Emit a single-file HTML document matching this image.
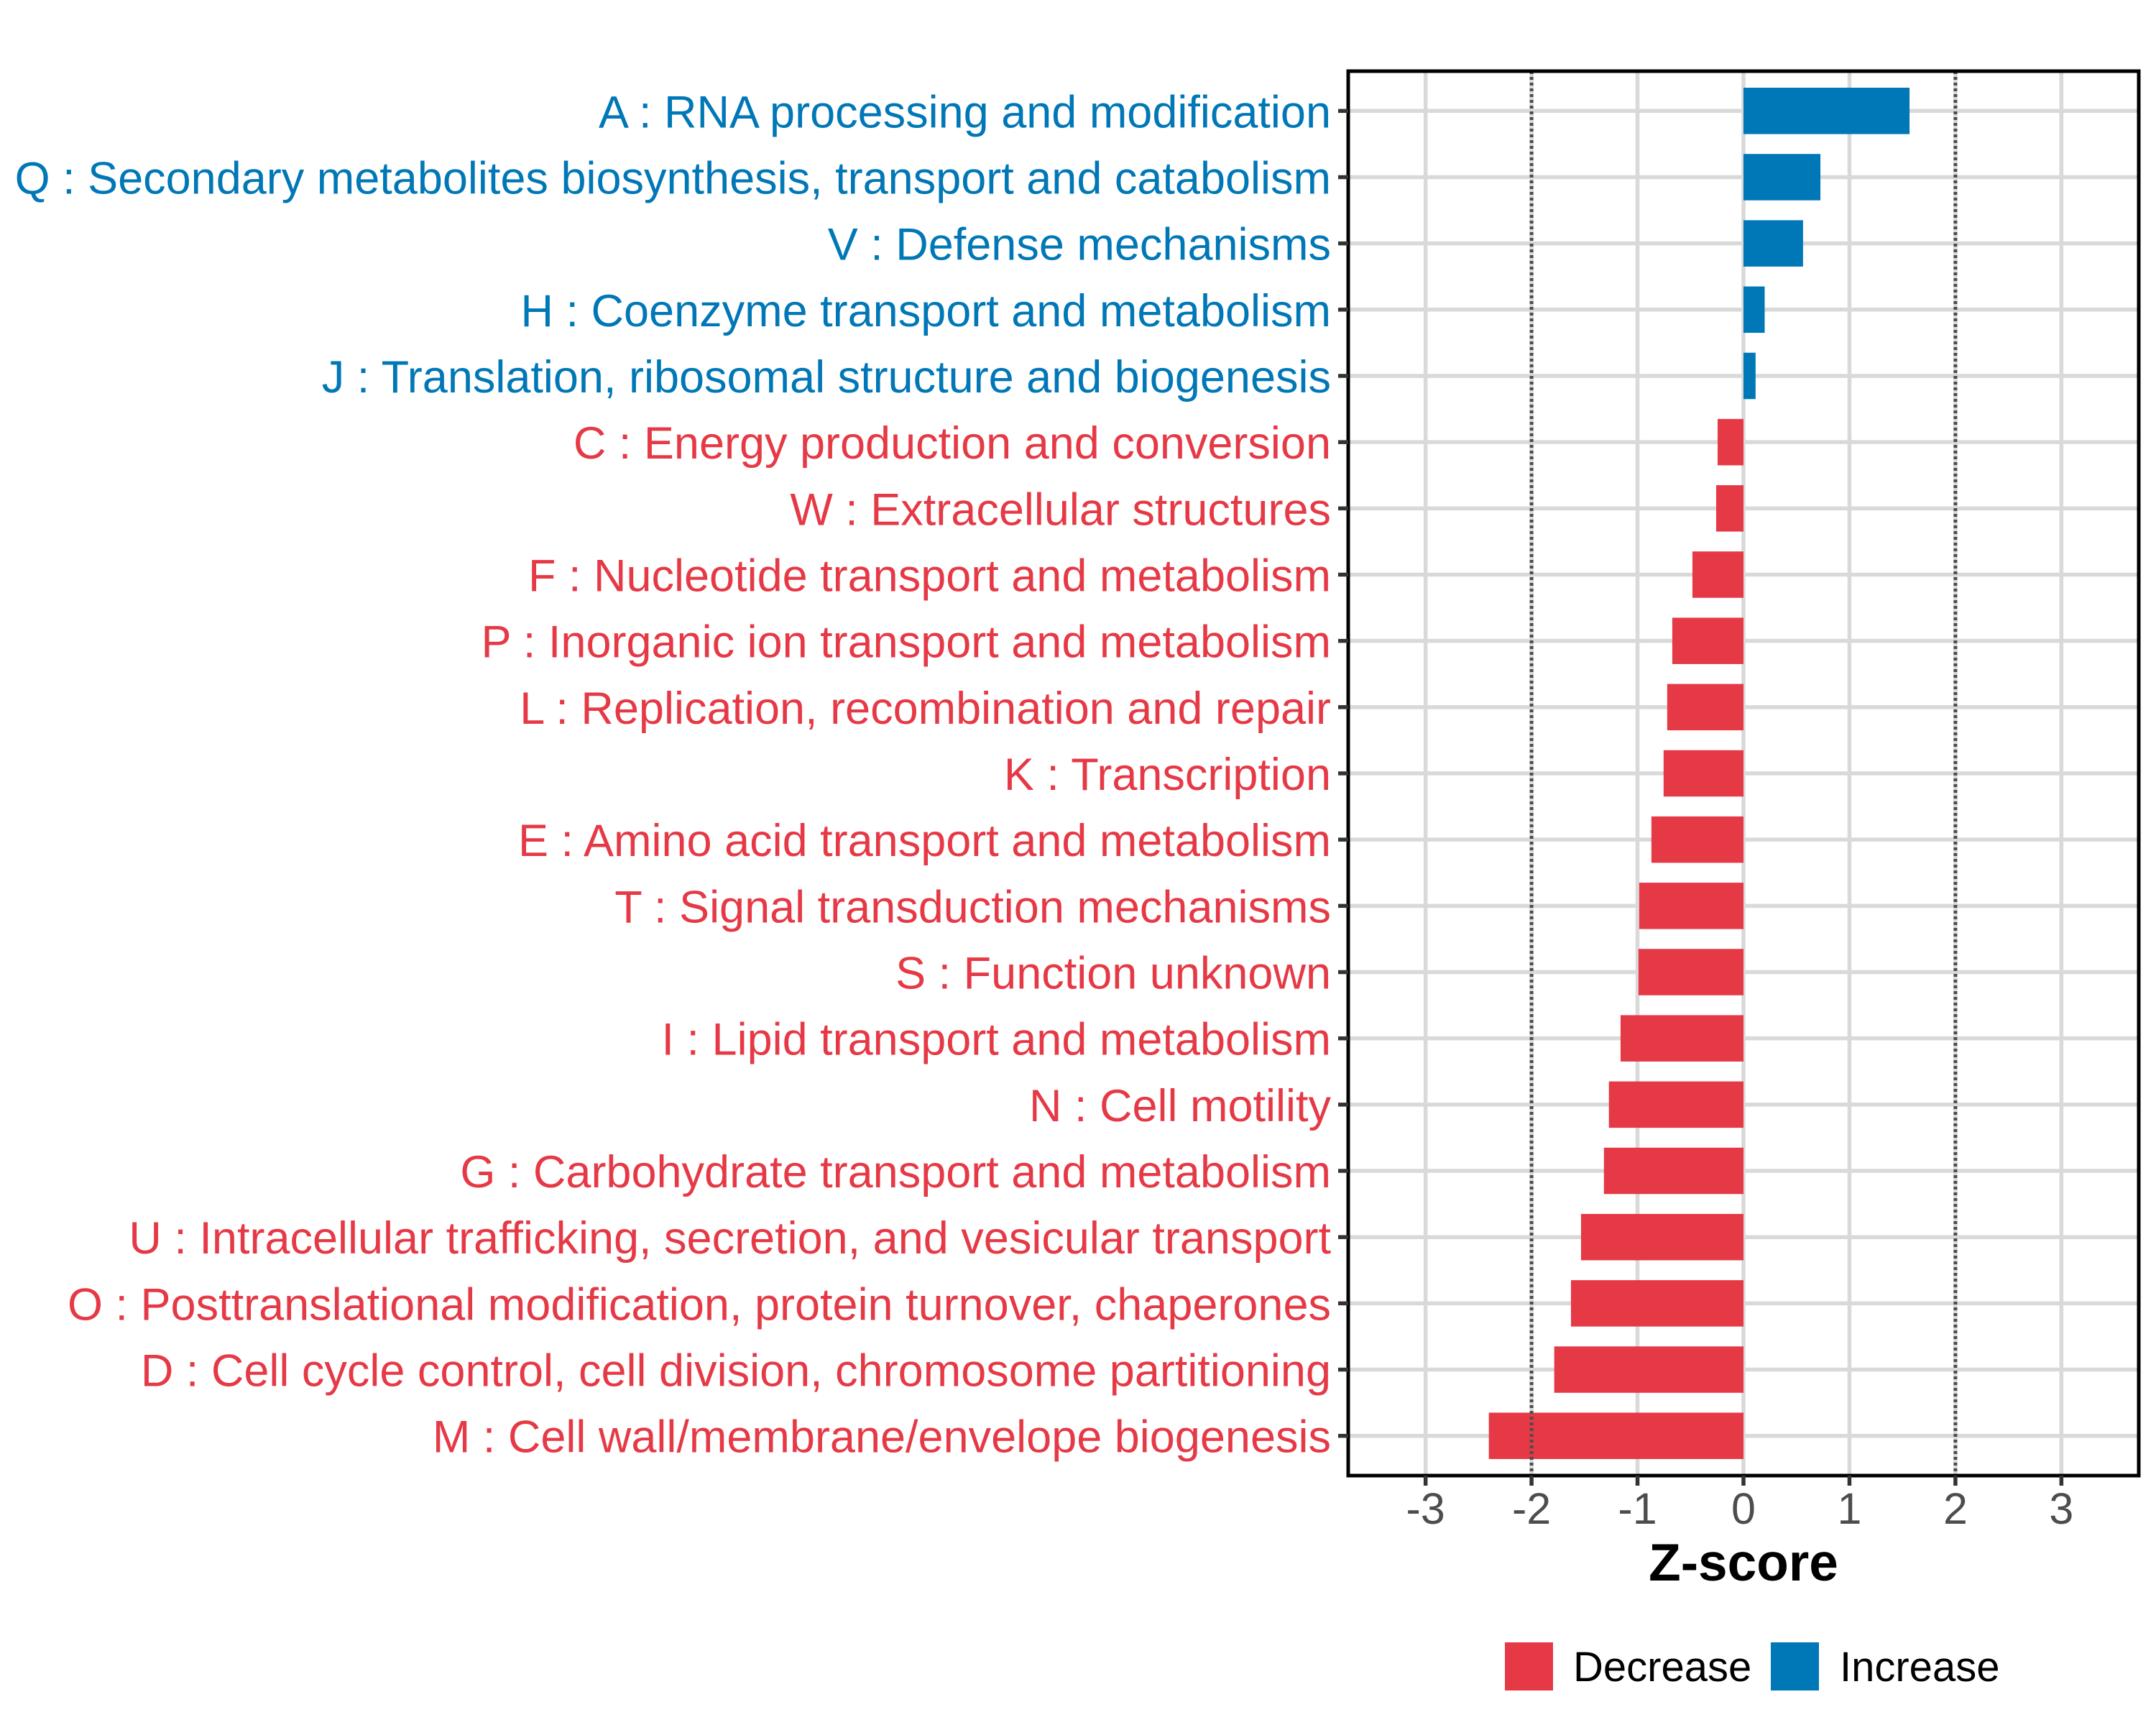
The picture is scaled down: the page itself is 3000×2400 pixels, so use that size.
<!DOCTYPE html>
<html><head><meta charset="utf-8"><style>html,body{margin:0;padding:0;background:#fff}svg{display:block}text{font-family:"Liberation Sans",Arial,sans-serif}</style></head>
<body>
<svg id="chart" width="3000" height="2400" viewBox="0 0 3000 2400" xmlns="http://www.w3.org/2000/svg">
<rect x="0" y="0" width="3000" height="2400" fill="#fff"/>
<g id="grid"></g><g id="bars"></g><g id="labels"></g>
<text x="2426" y="2199" font-size="73" font-weight="bold" text-anchor="middle" fill="#000">Z-score</text>
<g>
<rect x="2094" y="2285" width="67" height="67" fill="#E63946"/>
<text x="2189" y="2339" font-size="58" fill="#000">Decrease</text>
<rect x="2464" y="2285" width="67" height="67" fill="#0077B6"/>
<text x="2560" y="2339" font-size="58" fill="#000">Increase</text>
</g>
</svg>
<script>
const categories = ["A : RNA processing and modification","Q : Secondary metabolites biosynthesis, transport and catabolism","V : Defense mechanisms","H : Coenzyme transport and metabolism","J : Translation, ribosomal structure and biogenesis","C : Energy production and conversion","W : Extracellular structures","F : Nucleotide transport and metabolism","P : Inorganic ion transport and metabolism","L : Replication, recombination and repair","K : Transcription","E : Amino acid transport and metabolism","T : Signal transduction mechanisms","S : Function unknown","I : Lipid transport and metabolism","N : Cell motility","G : Carbohydrate transport and metabolism","U : Intracellular trafficking, secretion, and vesicular transport","O : Posttranslational modification, protein turnover, chaperones","D : Cell cycle control, cell division, chromosome partitioning","M : Cell wall/membrane/envelope biogenesis"];
const zscores = [1.567,0.726,0.562,0.2,0.114,-0.244,-0.258,-0.482,-0.672,-0.72,-0.754,-0.869,-0.984,-0.991,-1.16,-1.27,-1.317,-1.533,-1.628,-1.786,-2.403];
const xTicks = [-3,-2,-1,0,1,2,3];
const xTickLabels = ["-3","-2","-1","0","1","2","3"];
const thresholds = [-2,2];

const NS="http://www.w3.org/2000/svg";
const P={l:1876,r:2976,t:99,b:2053};
const xMin=-3.73,xMax=3.73;
const xs=v=>P.l+(v-xMin)/(xMax-xMin)*(P.r-P.l);
const n=categories.length;
const step=(P.b-P.t)/(n-1+1.2);
const ys=i=>P.t+step*(0.6+i);
function mk(tag,attrs,parent){const e=document.createElementNS(NS,tag);for(const k in attrs)e.setAttribute(k,attrs[k]);parent.appendChild(e);return e;}
const grid=document.getElementById('grid'),bars=document.getElementById('bars'),labels=document.getElementById('labels');
categories.forEach((c,i)=>{
  const l=mk('line',{x1:P.l,x2:P.r,y1:ys(i),y2:ys(i),stroke:'#D9D9D9','stroke-width':5.5},grid);
  
  
});
xTicks.forEach((t,i)=>{
  const l=mk('line',{x1:xs(t),x2:xs(t),y1:P.t,y2:P.b,stroke:'#D9D9D9','stroke-width':5.5},grid);
  
  
  const tk=mk('line',{x1:xs(t),x2:xs(t),y1:P.b,y2:P.b+14,stroke:'#333','stroke-width':5.5},labels);
  
  
  const tx=mk('text',{x:xs(t),y:2120,'font-size':61,'text-anchor':'middle',fill:'#4D4D4D'},labels);
  tx.textContent=xTickLabels[i];
  
  
});
const bh=step*0.7;
zscores.forEach((v,i)=>{
  const x0=xs(0),x1=xs(v);
  const r=mk('rect',{x:Math.min(x0,x1),y:ys(i)-bh/2,width:Math.abs(x1-x0),height:bh,fill:v>=0?'#0077B6':'#E63946'},bars);
  
  
  const tk=mk('line',{x1:P.l-14,x2:P.l,y1:ys(i),y2:ys(i),stroke:'#333','stroke-width':5.5},labels);
  
  
  const t=mk('text',{x:1852,y:ys(i)+23,'font-size':63,'text-anchor':'end',fill:v>=0?'#0077B6':'#E63946'},labels);
  t.textContent=categories[i];
  
  
});
thresholds.forEach(t=>{
  const l=mk('line',{x1:xs(t),x2:xs(t),y1:P.t,y2:P.b,stroke:'#4D4D4D','stroke-width':5,'stroke-dasharray':'4 4'},bars);
  
  
});
const border=mk('rect',{x:P.l,y:P.t,width:P.r-P.l,height:P.b-P.t,fill:'none',stroke:'#000','stroke-width':5},bars);


</script>
</body></html>
